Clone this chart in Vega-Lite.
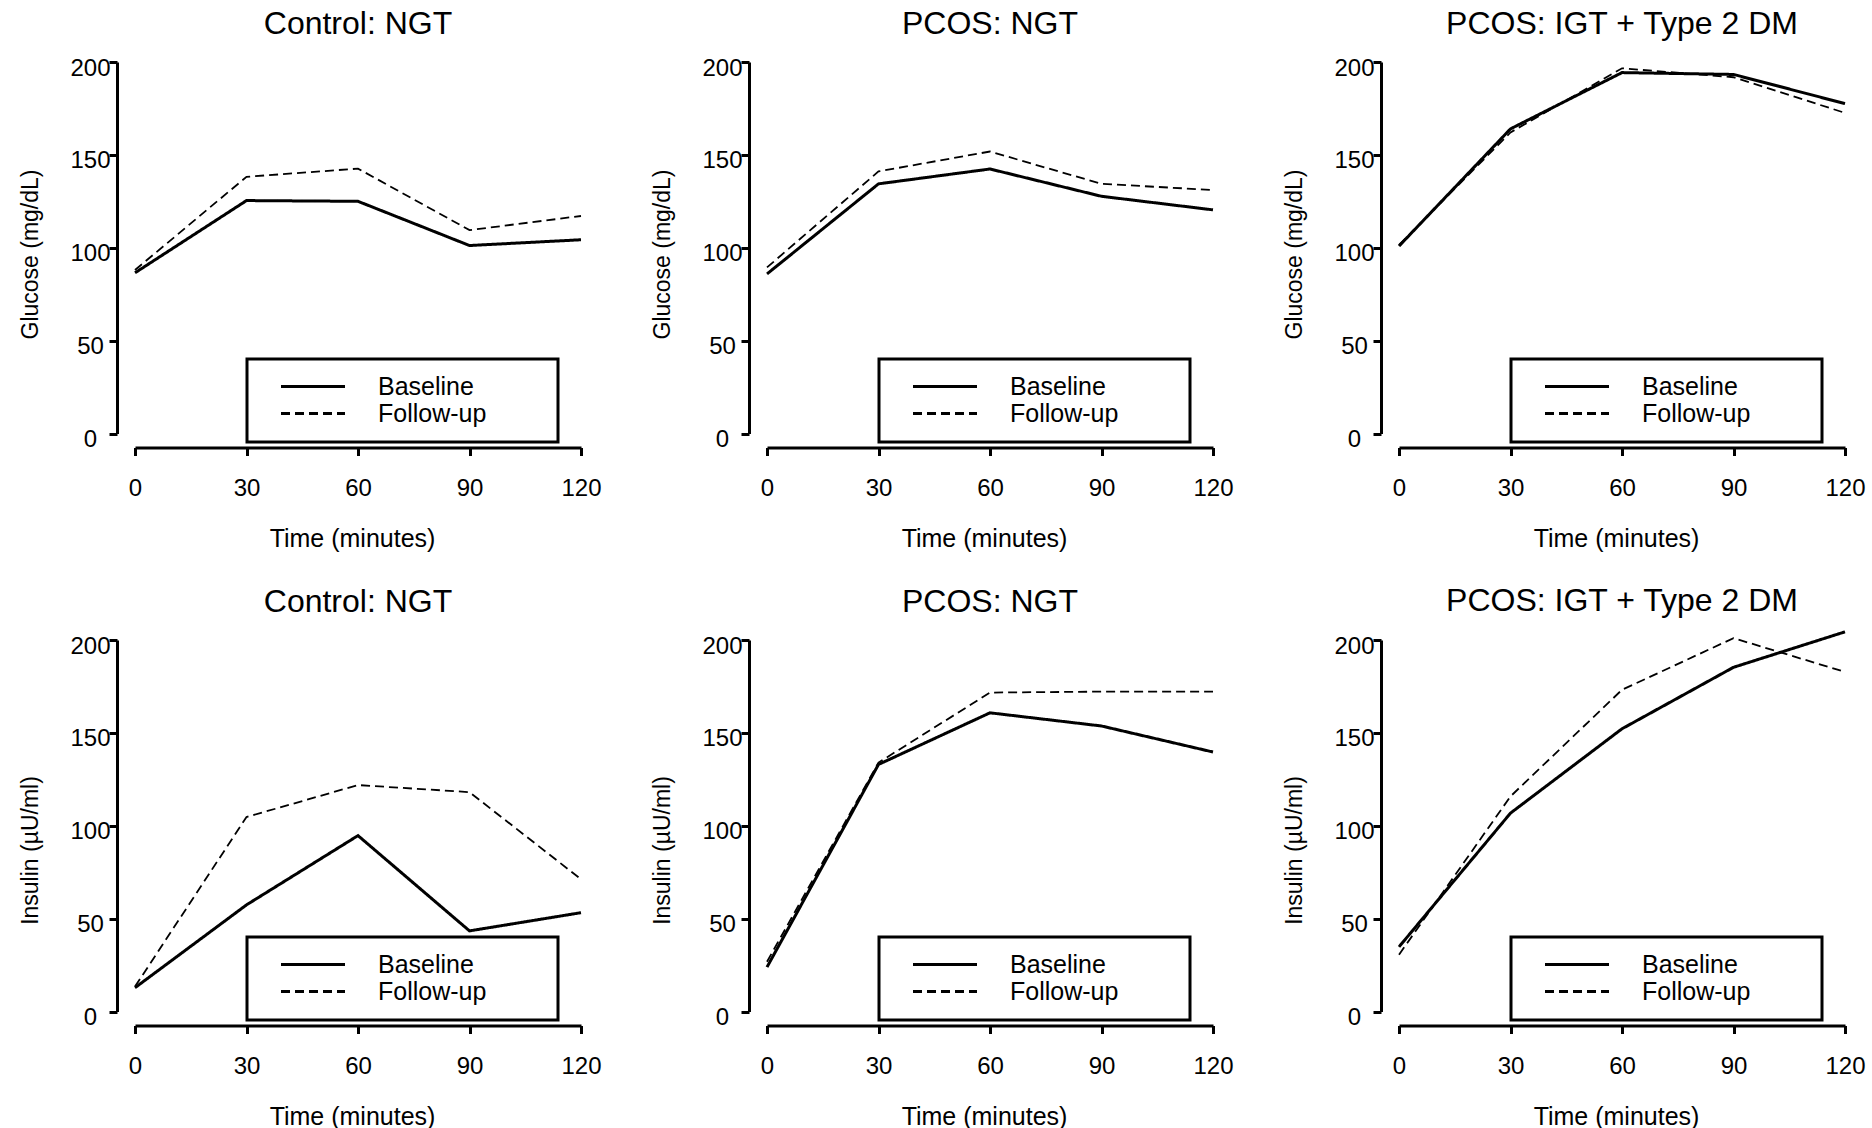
{
  "$schema": "https://vega.github.io/schema/vega-lite/v6.json",
  "background": "white",
  "padding": {"left": 19, "top": 8, "right": 10, "bottom": 4},
  "data": {"values": [
    {"panel": "TL", "visit": "Baseline", "time": 0, "value": 86.5},
    {"panel": "TL", "visit": "Baseline", "time": 30, "value": 125.4},
    {"panel": "TL", "visit": "Baseline", "time": 60, "value": 125.0},
    {"panel": "TL", "visit": "Baseline", "time": 90, "value": 101.2},
    {"panel": "TL", "visit": "Baseline", "time": 120, "value": 104.3},
    {"panel": "TL", "visit": "Follow-up", "time": 0, "value": 88.0},
    {"panel": "TL", "visit": "Follow-up", "time": 30, "value": 138.2},
    {"panel": "TL", "visit": "Follow-up", "time": 60, "value": 142.6},
    {"panel": "TL", "visit": "Follow-up", "time": 90, "value": 109.5},
    {"panel": "TL", "visit": "Follow-up", "time": 120, "value": 117.1},
    {"panel": "TM", "visit": "Baseline", "time": 0, "value": 85.9},
    {"panel": "TM", "visit": "Baseline", "time": 30, "value": 134.4},
    {"panel": "TM", "visit": "Baseline", "time": 60, "value": 142.4},
    {"panel": "TM", "visit": "Baseline", "time": 90, "value": 127.7},
    {"panel": "TM", "visit": "Baseline", "time": 120, "value": 120.4},
    {"panel": "TM", "visit": "Follow-up", "time": 0, "value": 89.4},
    {"panel": "TM", "visit": "Follow-up", "time": 30, "value": 141.1},
    {"panel": "TM", "visit": "Follow-up", "time": 60, "value": 151.8},
    {"panel": "TM", "visit": "Follow-up", "time": 90, "value": 134.4},
    {"panel": "TM", "visit": "Follow-up", "time": 120, "value": 131.1},
    {"panel": "TR", "visit": "Baseline", "time": 0, "value": 100.9},
    {"panel": "TR", "visit": "Baseline", "time": 30, "value": 164.0},
    {"panel": "TR", "visit": "Baseline", "time": 60, "value": 194.3},
    {"panel": "TR", "visit": "Baseline", "time": 90, "value": 193.3},
    {"panel": "TR", "visit": "Baseline", "time": 120, "value": 177.6},
    {"panel": "TR", "visit": "Follow-up", "time": 0, "value": 101.5},
    {"panel": "TR", "visit": "Follow-up", "time": 30, "value": 162.1},
    {"panel": "TR", "visit": "Follow-up", "time": 60, "value": 196.6},
    {"panel": "TR", "visit": "Follow-up", "time": 90, "value": 191.8},
    {"panel": "TR", "visit": "Follow-up", "time": 120, "value": 172.6},
    {"panel": "BL", "visit": "Baseline", "time": 0, "value": 12.8},
    {"panel": "BL", "visit": "Baseline", "time": 30, "value": 57.4},
    {"panel": "BL", "visit": "Baseline", "time": 60, "value": 94.7},
    {"panel": "BL", "visit": "Baseline", "time": 90, "value": 43.4},
    {"panel": "BL", "visit": "Baseline", "time": 120, "value": 53.2},
    {"panel": "BL", "visit": "Follow-up", "time": 0, "value": 13.4},
    {"panel": "BL", "visit": "Follow-up", "time": 30, "value": 104.7},
    {"panel": "BL", "visit": "Follow-up", "time": 60, "value": 121.9},
    {"panel": "BL", "visit": "Follow-up", "time": 90, "value": 118.1},
    {"panel": "BL", "visit": "Follow-up", "time": 120, "value": 71.2},
    {"panel": "BM", "visit": "Baseline", "time": 0, "value": 23.9},
    {"panel": "BM", "visit": "Baseline", "time": 30, "value": 133.0},
    {"panel": "BM", "visit": "Baseline", "time": 60, "value": 160.8},
    {"panel": "BM", "visit": "Baseline", "time": 90, "value": 153.7},
    {"panel": "BM", "visit": "Baseline", "time": 120, "value": 139.7},
    {"panel": "BM", "visit": "Follow-up", "time": 0, "value": 26.8},
    {"panel": "BM", "visit": "Follow-up", "time": 30, "value": 134.0},
    {"panel": "BM", "visit": "Follow-up", "time": 60, "value": 171.7},
    {"panel": "BM", "visit": "Follow-up", "time": 90, "value": 172.2},
    {"panel": "BM", "visit": "Follow-up", "time": 120, "value": 172.2},
    {"panel": "BR", "visit": "Baseline", "time": 0, "value": 34.8},
    {"panel": "BR", "visit": "Baseline", "time": 30, "value": 106.8},
    {"panel": "BR", "visit": "Baseline", "time": 60, "value": 152.2},
    {"panel": "BR", "visit": "Baseline", "time": 90, "value": 185.3},
    {"panel": "BR", "visit": "Baseline", "time": 120, "value": 204.4},
    {"panel": "BR", "visit": "Follow-up", "time": 0, "value": 30.6},
    {"panel": "BR", "visit": "Follow-up", "time": 30, "value": 115.8},
    {"panel": "BR", "visit": "Follow-up", "time": 60, "value": 173.2},
    {"panel": "BR", "visit": "Follow-up", "time": 90, "value": 201.0},
    {"panel": "BR", "visit": "Follow-up", "time": 120, "value": 182.8}
  ]},
  "columns": 3,
  "spacing": {"row": 206, "column": 186},
  "bounds": "flush",
  "resolve": {"scale": {"strokeDash": "independent"}, "legend": {"strokeDash": "independent"}},
  "concat": [
    {
      "width": 446, "height": 371.5,
      "title": "Control: NGT",
      "transform": [{"filter": "datum.panel === 'TL'"}],
      "mark": {"type": "line", "color": "black"},
      "encoding": {
        "x": {"field": "time", "type": "quantitative", "scale": {"domain": [0, 120], "nice": false, "zero": false}, "axis": {"title": "Time (minutes)", "values": [0, 30, 60, 90, 120]}},
        "y": {"field": "value", "type": "quantitative", "scale": {"domain": [0, 200], "nice": false}, "axis": {"title": "Glucose (mg/dL)", "titleY": 192, "values": [0, 50, 100, 150, 200]}},
        "strokeDash": {"field": "visit", "type": "nominal", "scale": {"domain": ["Baseline", "Follow-up"], "range": [[1, 0], [9, 5]]}, "legend": {"title": null, "labelExpr": "datum.label + '\u00a0\u00a0\u00a0\u00a0\u00a0\u00a0\u00a0\u00a0\u200b'", "encode": {"legend": {"update": {"strokeWidth": {"value": 3}, "stroke": {"value": "black"}}}, "symbols": {"update": {"strokeWidth": {"value": 3}, "stroke": {"value": "black"}}}}}},
        "strokeWidth": {"condition": {"test": "datum.visit === 'Baseline'", "value": 3}, "value": 1.8}
      }
    },
    {
      "width": 446, "height": 371.5,
      "title": "PCOS: NGT",
      "transform": [{"filter": "datum.panel === 'TM'"}],
      "mark": {"type": "line", "color": "black"},
      "encoding": {
        "x": {"field": "time", "type": "quantitative", "scale": {"domain": [0, 120], "nice": false, "zero": false}, "axis": {"title": "Time (minutes)", "values": [0, 30, 60, 90, 120]}},
        "y": {"field": "value", "type": "quantitative", "scale": {"domain": [0, 200], "nice": false}, "axis": {"title": "Glucose (mg/dL)", "titleY": 192, "values": [0, 50, 100, 150, 200]}},
        "strokeDash": {"field": "visit", "type": "nominal", "scale": {"domain": ["Baseline", "Follow-up"], "range": [[1, 0], [9, 5]]}, "legend": {"title": null, "labelExpr": "datum.label + '\u00a0\u00a0\u00a0\u00a0\u00a0\u00a0\u00a0\u00a0\u200b'", "encode": {"legend": {"update": {"strokeWidth": {"value": 3}, "stroke": {"value": "black"}}}, "symbols": {"update": {"strokeWidth": {"value": 3}, "stroke": {"value": "black"}}}}}},
        "strokeWidth": {"condition": {"test": "datum.visit === 'Baseline'", "value": 3}, "value": 1.8}
      }
    },
    {
      "width": 446, "height": 371.5,
      "title": "PCOS: IGT + Type 2 DM",
      "transform": [{"filter": "datum.panel === 'TR'"}],
      "mark": {"type": "line", "color": "black"},
      "encoding": {
        "x": {"field": "time", "type": "quantitative", "scale": {"domain": [0, 120], "nice": false, "zero": false}, "axis": {"title": "Time (minutes)", "values": [0, 30, 60, 90, 120]}},
        "y": {"field": "value", "type": "quantitative", "scale": {"domain": [0, 200], "nice": false}, "axis": {"title": "Glucose (mg/dL)", "titleY": 192, "values": [0, 50, 100, 150, 200]}},
        "strokeDash": {"field": "visit", "type": "nominal", "scale": {"domain": ["Baseline", "Follow-up"], "range": [[1, 0], [9, 5]]}, "legend": {"title": null, "labelExpr": "datum.label + '\u00a0\u00a0\u00a0\u00a0\u00a0\u00a0\u00a0\u00a0\u200b'", "encode": {"legend": {"update": {"strokeWidth": {"value": 3}, "stroke": {"value": "black"}}}, "symbols": {"update": {"strokeWidth": {"value": 3}, "stroke": {"value": "black"}}}}}},
        "strokeWidth": {"condition": {"test": "datum.visit === 'Baseline'", "value": 3}, "value": 1.8}
      }
    },
    {
      "width": 446, "height": 371.5,
      "title": "Control: NGT",
      "transform": [{"filter": "datum.panel === 'BL'"}],
      "mark": {"type": "line", "color": "black"},
      "encoding": {
        "x": {"field": "time", "type": "quantitative", "scale": {"domain": [0, 120], "nice": false, "zero": false}, "axis": {"title": "Time (minutes)", "values": [0, 30, 60, 90, 120]}},
        "y": {"field": "value", "type": "quantitative", "scale": {"domain": [0, 200], "nice": false}, "axis": {"title": "Insulin (µU/ml)", "titleY": 210, "values": [0, 50, 100, 150, 200]}},
        "strokeDash": {"field": "visit", "type": "nominal", "scale": {"domain": ["Baseline", "Follow-up"], "range": [[1, 0], [9, 5]]}, "legend": {"title": null, "labelExpr": "datum.label + '\u00a0\u00a0\u00a0\u00a0\u00a0\u00a0\u00a0\u00a0\u200b'", "encode": {"legend": {"update": {"strokeWidth": {"value": 3}, "stroke": {"value": "black"}}}, "symbols": {"update": {"strokeWidth": {"value": 3}, "stroke": {"value": "black"}}}}}},
        "strokeWidth": {"condition": {"test": "datum.visit === 'Baseline'", "value": 3}, "value": 1.8}
      }
    },
    {
      "width": 446, "height": 371.5,
      "title": "PCOS: NGT",
      "transform": [{"filter": "datum.panel === 'BM'"}],
      "mark": {"type": "line", "color": "black"},
      "encoding": {
        "x": {"field": "time", "type": "quantitative", "scale": {"domain": [0, 120], "nice": false, "zero": false}, "axis": {"title": "Time (minutes)", "values": [0, 30, 60, 90, 120]}},
        "y": {"field": "value", "type": "quantitative", "scale": {"domain": [0, 200], "nice": false}, "axis": {"title": "Insulin (µU/ml)", "titleY": 210, "values": [0, 50, 100, 150, 200]}},
        "strokeDash": {"field": "visit", "type": "nominal", "scale": {"domain": ["Baseline", "Follow-up"], "range": [[1, 0], [9, 5]]}, "legend": {"title": null, "labelExpr": "datum.label + '\u00a0\u00a0\u00a0\u00a0\u00a0\u00a0\u00a0\u00a0\u200b'", "encode": {"legend": {"update": {"strokeWidth": {"value": 3}, "stroke": {"value": "black"}}}, "symbols": {"update": {"strokeWidth": {"value": 3}, "stroke": {"value": "black"}}}}}},
        "strokeWidth": {"condition": {"test": "datum.visit === 'Baseline'", "value": 3}, "value": 1.8}
      }
    },
    {
      "width": 446, "height": 371.5,
      "title": {"text": "PCOS: IGT + Type 2 DM", "offset": 8},
      "transform": [{"filter": "datum.panel === 'BR'"}],
      "mark": {"type": "line", "color": "black"},
      "encoding": {
        "x": {"field": "time", "type": "quantitative", "scale": {"domain": [0, 120], "nice": false, "zero": false}, "axis": {"title": "Time (minutes)", "values": [0, 30, 60, 90, 120]}},
        "y": {"field": "value", "type": "quantitative", "scale": {"domain": [0, 200], "nice": false}, "axis": {"title": "Insulin (µU/ml)", "titleY": 210, "values": [0, 50, 100, 150, 200]}},
        "strokeDash": {"field": "visit", "type": "nominal", "scale": {"domain": ["Baseline", "Follow-up"], "range": [[1, 0], [9, 5]]}, "legend": {"title": null, "labelExpr": "datum.label + '\u00a0\u00a0\u00a0\u00a0\u00a0\u00a0\u00a0\u00a0\u200b'", "encode": {"legend": {"update": {"strokeWidth": {"value": 3}, "stroke": {"value": "black"}}}, "symbols": {"update": {"strokeWidth": {"value": 3}, "stroke": {"value": "black"}}}}}},
        "strokeWidth": {"condition": {"test": "datum.visit === 'Baseline'", "value": 3}, "value": 1.8}
      }
    }
  ],
  "config": {
    "font": "Liberation Sans",
    "view": {"stroke": null},
    "title": {"fontSize": 32, "fontWeight": "normal", "color": "black", "offset": 15, "baseline": "alphabetic", "anchor": "middle", "frame": "group"},
    "axis": {"grid": false, "domainColor": "black", "domainWidth": 3, "tickColor": "black", "tickWidth": 3, "tickSize": 8, "labelFontSize": 24, "labelColor": "black", "titleFontWeight": "normal", "titleColor": "black", "labelFlush": false, "labelOverlap": false, "titleBaseline": "alphabetic"},
    "axisX": {"offset": 14, "labelPadding": 21, "titleY": 98.5, "titleX": 217, "titleFontSize": 25, "labelAngle": 0},
    "axisY": {"offset": 18, "labelPadding": 19, "labelAlign": "center", "labelOffset": 6, "labelBaseline": "middle", "titleX": -80, "titleFontSize": 23},
    "legend": {"orient": "none", "legendX": 112, "legendY": 297, "padding": 15.5, "strokeColor": "black", "cornerRadius": 0, "fillColor": "white", "symbolType": "stroke", "symbolSize": 4096, "symbolStrokeWidth": 3, "symbolStrokeColor": "black", "clipHeight": 24, "rowPadding": 2, "symbolOffset": 17, "labelOffset": 31.5, "labelFontSize": 25, "labelColor": "black", "labelLimit": 400}
  }
}
